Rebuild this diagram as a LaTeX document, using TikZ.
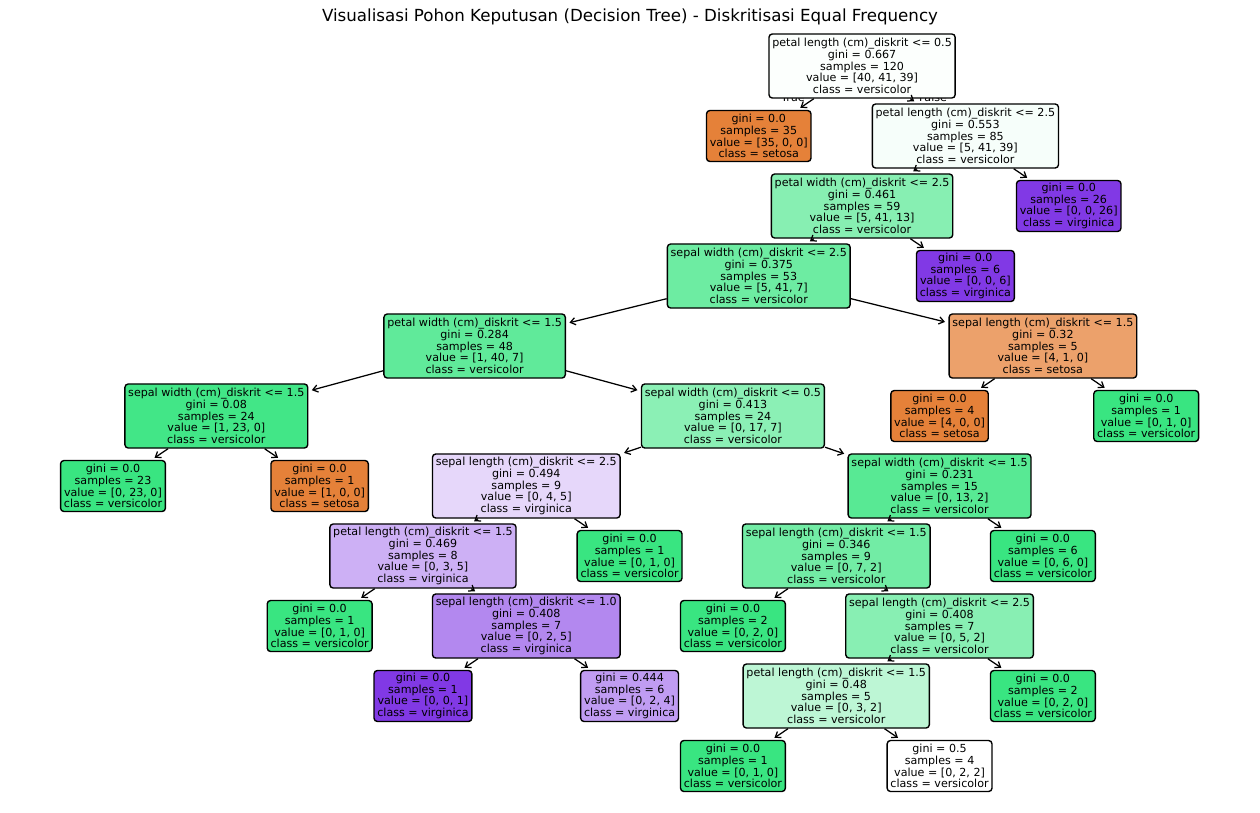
\documentclass[tikz,border=0pt]{standalone}
\usepackage{fontspec}
\setmainfont{DejaVu Sans}
\usetikzlibrary{arrows.meta}
\definecolor{cRoot}{RGB}{252,255,253}
\definecolor{cRa}{RGB}{246,254,250}
\definecolor{cA}{RGB}{135,239,178}
\definecolor{cB}{RGB}{109,236,162}
\definecolor{cC}{RGB}{96,234,154}
\definecolor{cD}{RGB}{236,161,107}
\definecolor{cE}{RGB}{66,230,135}
\definecolor{cF}{RGB}{139,240,181}
\definecolor{cG}{RGB}{230,215,250}
\definecolor{cH}{RGB}{88,233,148}
\definecolor{cI}{RGB}{205,176,245}
\definecolor{cJ}{RGB}{114,236,165}
\definecolor{cK}{RGB}{179,136,239}
\definecolor{cL}{RGB}{136,239,179}
\definecolor{cM}{RGB}{192,156,242}
\definecolor{cN}{RGB}{189,246,213}
\definecolor{setosa}{RGB}{229,129,57}
\definecolor{versi}{RGB}{57,229,129}
\definecolor{virg}{RGB}{129,57,229}
\newcommand\tn[6]{\node[#1,fill=#5] (#2) at ({113+25.83*#3},{66+70*#4}) {#6};}
\begin{document}
\begin{tikzpicture}[x=0.72pt,y=-0.72pt,
  box/.style={rectangle, rounded corners=2.4pt, draw=black, line width=1pt,
    inner xsep=2.4pt, inner ysep=1.2pt, align=center,
    font=\fontsize{8}{8.45}\selectfont},
  inner/.style={box, minimum height=46.1pt},
  leaf/.style={box, minimum height=36.7pt},
  lbl/.style={inner sep=0pt, font=\fontsize{8}{8.45}\selectfont},
  edge/.style={-{Straight Barb[length=3.6pt,width=5.2pt]}, line width=0.9pt, shorten >=2.5pt}]
\fill[white] (0,0) rectangle (1260,812);
\useasboundingbox (0,0) rectangle (1260,812);
\node[anchor=base, font=\fontsize{12}{14}\selectfont] (title) at (630,21) {Visualisasi Pohon Keputusan (Decision Tree) - Diskritisasi Equal Frequency};
\node[lbl] (true) at (793,97.5) {True};
\node[lbl] (false) at (933,97.5) {False};
% depth 0
\tn{inner}{n0}{29}{0}{cRoot}{petal length (cm)\_diskrit <= 0.5\\gini = 0.667\\samples = 120\\value = [40, 41, 39]\\class = versicolor}
% depth 1
\tn{leaf}{n1}{25}{1}{setosa}{gini = 0.0\\samples = 35\\value = [35, 0, 0]\\class = setosa}
\tn{inner}{n2}{33}{1}{cRa}{petal length (cm)\_diskrit <= 2.5\\gini = 0.553\\samples = 85\\value = [5, 41, 39]\\class = versicolor}
% depth 2
\tn{inner}{n3}{29}{2}{cA}{petal width (cm)\_diskrit <= 2.5\\gini = 0.461\\samples = 59\\value = [5, 41, 13]\\class = versicolor}
\tn{leaf}{n4}{37}{2}{virg}{gini = 0.0\\samples = 26\\value = [0, 0, 26]\\class = virginica}
% depth 3
\tn{inner}{n5}{25}{3}{cB}{sepal width (cm)\_diskrit <= 2.5\\gini = 0.375\\samples = 53\\value = [5, 41, 7]\\class = versicolor}
\tn{leaf}{n6}{33}{3}{virg}{gini = 0.0\\samples = 6\\value = [0, 0, 6]\\class = virginica}
% depth 4
\tn{inner}{n7}{14}{4}{cC}{petal width (cm)\_diskrit <= 1.5\\gini = 0.284\\samples = 48\\value = [1, 40, 7]\\class = versicolor}
\tn{inner}{n8}{36}{4}{cD}{sepal length (cm)\_diskrit <= 1.5\\gini = 0.32\\samples = 5\\value = [4, 1, 0]\\class = setosa}
% depth 5
\tn{inner}{n9}{4}{5}{cE}{sepal width (cm)\_diskrit <= 1.5\\gini = 0.08\\samples = 24\\value = [1, 23, 0]\\class = versicolor}
\tn{inner}{n10}{24}{5}{cF}{sepal width (cm)\_diskrit <= 0.5\\gini = 0.413\\samples = 24\\value = [0, 17, 7]\\class = versicolor}
\tn{leaf}{n11}{32}{5}{setosa}{gini = 0.0\\samples = 4\\value = [4, 0, 0]\\class = setosa}
\tn{leaf}{n12}{40}{5}{versi}{gini = 0.0\\samples = 1\\value = [0, 1, 0]\\class = versicolor}
% depth 6
\tn{leaf}{n13}{0}{6}{versi}{gini = 0.0\\samples = 23\\value = [0, 23, 0]\\class = versicolor}
\tn{leaf}{n14}{8}{6}{setosa}{gini = 0.0\\samples = 1\\value = [1, 0, 0]\\class = setosa}
\tn{inner}{n15}{16}{6}{cG}{sepal length (cm)\_diskrit <= 2.5\\gini = 0.494\\samples = 9\\value = [0, 4, 5]\\class = virginica}
\tn{inner}{n16}{32}{6}{cH}{sepal width (cm)\_diskrit <= 1.5\\gini = 0.231\\samples = 15\\value = [0, 13, 2]\\class = versicolor}
% depth 7
\tn{inner}{n17}{12}{7}{cI}{petal length (cm)\_diskrit <= 1.5\\gini = 0.469\\samples = 8\\value = [0, 3, 5]\\class = virginica}
\tn{leaf}{n18}{20}{7}{versi}{gini = 0.0\\samples = 1\\value = [0, 1, 0]\\class = versicolor}
\tn{inner}{n19}{28}{7}{cJ}{sepal length (cm)\_diskrit <= 1.5\\gini = 0.346\\samples = 9\\value = [0, 7, 2]\\class = versicolor}
\tn{leaf}{n20}{36}{7}{versi}{gini = 0.0\\samples = 6\\value = [0, 6, 0]\\class = versicolor}
% depth 8
\tn{leaf}{n21}{8}{8}{versi}{gini = 0.0\\samples = 1\\value = [0, 1, 0]\\class = versicolor}
\tn{inner}{n22}{16}{8}{cK}{sepal length (cm)\_diskrit <= 1.0\\gini = 0.408\\samples = 7\\value = [0, 2, 5]\\class = virginica}
\tn{leaf}{n23}{24}{8}{versi}{gini = 0.0\\samples = 2\\value = [0, 2, 0]\\class = versicolor}
\tn{inner}{n24}{32}{8}{cL}{sepal length (cm)\_diskrit <= 2.5\\gini = 0.408\\samples = 7\\value = [0, 5, 2]\\class = versicolor}
% depth 9
\tn{leaf}{n25}{12}{9}{virg}{gini = 0.0\\samples = 1\\value = [0, 0, 1]\\class = virginica}
\tn{leaf}{n26}{20}{9}{cM}{gini = 0.444\\samples = 6\\value = [0, 2, 4]\\class = virginica}
\tn{inner}{n27}{28}{9}{cN}{petal length (cm)\_diskrit <= 1.5\\gini = 0.48\\samples = 5\\value = [0, 3, 2]\\class = versicolor}
\tn{leaf}{n28}{36}{9}{versi}{gini = 0.0\\samples = 2\\value = [0, 2, 0]\\class = versicolor}
% depth 10
\tn{leaf}{n29}{24}{10}{versi}{gini = 0.0\\samples = 1\\value = [0, 1, 0]\\class = versicolor}
\tn{leaf}{n30}{32}{10}{white}{gini = 0.5\\samples = 4\\value = [0, 2, 2]\\class = versicolor}
% edges
\foreach \p/\c in {n0/n1,n0/n2,n2/n3,n2/n4,n3/n5,n3/n6,n5/n7,n5/n8,n7/n9,n7/n10,n8/n11,n8/n12,
  n9/n13,n9/n14,n10/n15,n10/n16,n15/n17,n15/n18,n16/n19,n16/n20,n17/n21,n17/n22,n19/n23,n19/n24,
  n22/n25,n22/n26,n24/n27,n24/n28,n27/n29,n27/n30}
  \draw[edge] (\p) -- (\c);
\end{tikzpicture}
\end{document}
